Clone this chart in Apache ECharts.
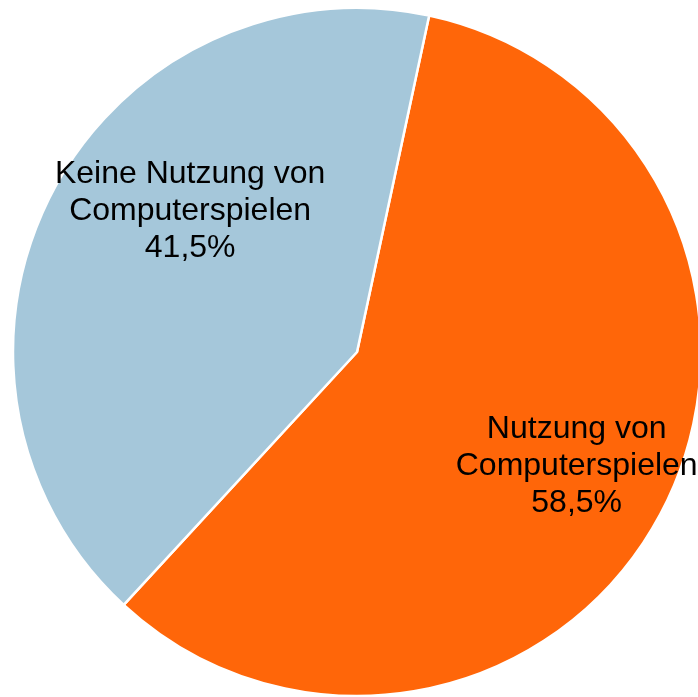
<!DOCTYPE html>
<html>
<head>
<meta charset="utf-8">
<script src="https://cdn.jsdelivr.net/npm/echarts@6/dist/echarts.min.js"></script>
<style>
  html, body { margin: 0; padding: 0; background: #fff; }
  #main { width: 698px; height: 697px; }
</style>
</head>
<body>
<div id="main"></div>
<script>
// chart data
var categories = ['Nutzung von\nComputerspielen', 'Keine Nutzung von\nComputerspielen'];
var shares = [58.5, 41.5];
var colors = ['#ff6609', '#a5c7da'];

// where each label sits: angle (deg, clockwise from top) and distance as fraction of radius
var labelAngles = [117.5, 310.2];
var labelDist = [0.72, 0.635];

var cx = 357, cy = 352, r = 344;

var chartDom = document.getElementById('main');
var myChart = echarts.init(chartDom);

var option = {
  animation: false,
  series: [
    {
      type: 'pie',
      center: [cx, cy],
      radius: [0, r],
      startAngle: 77.9,
      clockwise: true,
      avoidLabelOverlap: false,
      itemStyle: {
        borderColor: '#fff',
        borderWidth: 2.5
      },
      label: {
        show: true,
        position: 'inside',
        fontFamily: 'Liberation Sans',
        fontSize: 32,
        lineHeight: 37,
        color: '#000',
        align: 'center',
        formatter: function (p) {
          return p.name + '\n' + p.value.toFixed(1).replace('.', ',') + '%';
        }
      },
      labelLayout: function (params) {
        var i = params.dataIndex;
        var a = labelAngles[i] * Math.PI / 180;
        return {
          x: cx + Math.sin(a) * r * labelDist[i],
          y: cy - Math.cos(a) * r * labelDist[i],
          align: 'center',
          verticalAlign: 'middle'
        };
      },
      emphasis: { disabled: true },
      data: categories.map(function (c, i) {
        return { name: c, value: shares[i], itemStyle: { color: colors[i] } };
      })
    }
  ]
};

option && myChart.setOption(option);
</script>
</body>
</html>
